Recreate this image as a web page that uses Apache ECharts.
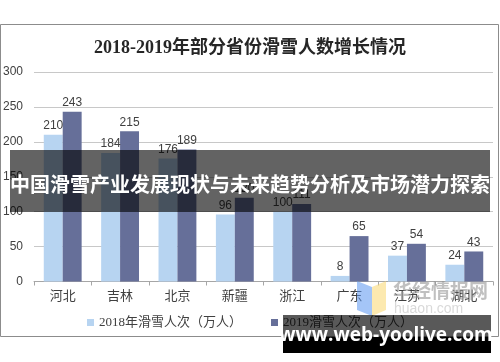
<!DOCTYPE html>
<html><head><meta charset="utf-8">
<script src="https://cdn.jsdelivr.net/npm/echarts@6/dist/echarts.min.js"></script>
<style>html,body{margin:0;padding:0;background:#fff}#c{width:500px;height:362px}</style>
</head><body><div id="c"></div>
<script>
const categories = ['河北','吉林','北京','新疆','浙江','广东','江苏','湖北'];
const values2018 = [210,184,176,96,100,8,37,24];
const values2019 = [243,215,189,120,111,65,54,43];
const yTicks = [0,50,100,150,200,250,300];
const seriesNames = ['2018年滑雪人次（万人）','2019滑雪人次（万人）'];
const titleText = '2018-2019年部分省份滑雪人数增长情况';
const bannerText = '中国滑雪产业发展现状与未来趋势分析及市场潜力探索';
const urlText = 'www.web-yoolive.com';

const serif = '"Liberation Serif","DejaVu Serif","Noto Sans CJK SC",serif';
const sans = '"Liberation Sans",Arial,"Noto Sans CJK SC",sans-serif';
const chart = echarts.init(document.getElementById('c'), null, {renderer:'canvas'});
chart.setOption({
  animation:false,
  backgroundColor:'#fff',
  title:{text:titleText,left:'center',top:34,textStyle:{fontFamily:serif,fontSize:18,fontWeight:'bold',color:'#262626'}},
  grid:{left:34,right:7,top:72,bottom:80.5,containLabel:false},
  legend:{left:'center',top:311,itemWidth:7,itemHeight:7,itemGap:29,icon:'rect',
    textStyle:{fontFamily:serif,fontSize:13,color:'#404040'},data:seriesNames},
  xAxis:{type:'category',data:categories,
    axisLine:{lineStyle:{color:'#a6a6a6',width:1}},
    axisTick:{show:true,length:4,lineStyle:{color:'#a6a6a6'}},
    axisLabel:{fontFamily:serif,fontSize:13,color:'#404040',margin:9}},
  yAxis:{type:'value',min:yTicks[0],max:yTicks[yTicks.length-1],interval:50,
    axisLine:{show:false},axisTick:{show:false},
    splitLine:{lineStyle:{color:'#c8c8c8',width:1}},
    axisLabel:{fontFamily:sans,fontSize:12,color:'#404040',margin:11}},
  series:[
    {name:seriesNames[0],type:'bar',data:values2018,barGap:'0%',barCategoryGap:'34%',
     itemStyle:{color:'#b7d4f1'},
     label:{show:true,position:'top',distance:3,fontFamily:sans,fontSize:12,color:'#404040'}},
    {name:seriesNames[1],type:'bar',data:values2019,
     itemStyle:{color:'#666f99'},
     label:{show:true,position:'top',distance:3,fontFamily:sans,fontSize:12,color:'#404040'}}
  ],
  graphic:[
    {type:'rect',z:-1,silent:true,shape:{x:0.5,y:24.5,width:498,height:312},style:{fill:'none',stroke:'#8c8c8c',lineWidth:1}},
    {type:'polygon',z:90,silent:true,shape:{points:[[357,281],[372,287],[372,316],[357,310]]},style:{fill:'rgba(90,150,240,0.55)'}},
    {type:'polygon',z:90,silent:true,shape:{points:[[372,287],[386,281],[386,310],[372,316]]},style:{fill:'rgba(250,215,110,0.55)'}},
    {type:'text',z:90,silent:true,left:393,top:281,style:{text:'华经情报网',font:'bold 19px "Noto Sans CJK SC",sans-serif',fill:'rgba(150,150,150,0.6)'}},
    {type:'text',z:90,silent:true,left:394,top:302,style:{text:'huaon.com',font:'14px '+sans,fill:'rgba(170,170,170,0.45)'}},
    {type:'rect',z:100,silent:true,shape:{x:10,y:150,width:480,height:62},style:{fill:'rgba(0,0,0,0.61)'}},
    {type:'text',z:101,silent:true,x:250,y:184,style:{text:bannerText,align:'center',verticalAlign:'middle',font:'bold 20px "Noto Sans CJK SC",sans-serif',fill:'#ffffff'}},
    {type:'rect',z:100,silent:true,shape:{x:283,y:315,width:208,height:22},style:{fill:'rgba(0,0,0,0.65)'}},
    {type:'rect',z:100,silent:true,shape:{x:283,y:337,width:208,height:16},style:{fill:'#000000'}},
    {type:'text',z:101,silent:true,x:386,y:336,style:{text:urlText,align:'center',verticalAlign:'middle',font:'bold 19px "Open Sans","DejaVu Sans",sans-serif',fill:'#ffffff'}}
  ]
});
</script></body></html>
